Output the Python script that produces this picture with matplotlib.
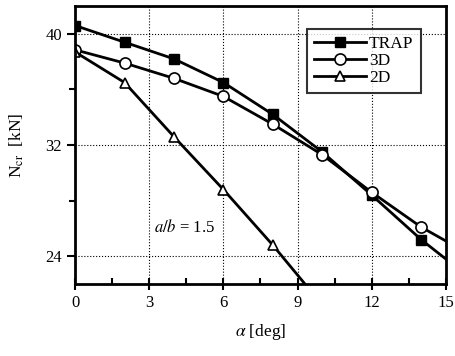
import numpy as np
import matplotlib.pyplot as plt
from matplotlib.ticker import MultipleLocator

plt.rcParams['font.family'] = ['Liberation Serif', 'DejaVu Serif']
plt.rcParams['mathtext.fontset'] = 'stix'

# angle alpha [deg] and buckling load N_cr [kN]
alpha_trap = [0, 2, 4, 6, 8, 10, 12, 14, 15]
n_trap = [40.6, 39.4, 38.2, 36.5, 34.2, 31.5, 28.4, 25.2, 23.8]
alpha_3d = [0, 2, 4, 6, 8, 10, 12, 14, 15]
n_3d = [38.85, 37.9, 36.8, 35.5, 33.5, 31.3, 28.6, 26.1, 25.1]
alpha_2d = [0, 2, 4, 6, 8, 10]
n_2d = [38.7, 36.5, 32.6, 28.8, 24.8, 20.5]

fig = plt.figure(figsize=(4.55, 3.56), dpi=100)
ax = fig.add_axes([0.165, 0.202, 0.815, 0.781])

ax.plot(alpha_trap, n_trap, color='black', lw=2, marker='s', ms=6.5,
        mfc='black', mec='black', markevery=list(range(8)), label='TRAP')
ax.plot(alpha_3d, n_3d, color='black', lw=2, marker='o', ms=8,
        mfc='white', mec='black', mew=1.2, markevery=list(range(8)), label='3D')
ax.plot(alpha_2d, n_2d, color='black', lw=2, marker='^', ms=7,
        mfc='white', mec='black', mew=1.2, markevery=list(range(5)), label='2D')

ax.set_xlim(0, 15)
ax.set_ylim(22, 42)
ax.xaxis.set_major_locator(MultipleLocator(3))
ax.xaxis.set_minor_locator(MultipleLocator(1.5))
ax.yaxis.set_major_locator(MultipleLocator(8))
ax.yaxis.set_minor_locator(MultipleLocator(4))
ax.set_yticks([24, 32, 40])
ax.grid(True, which='major', color='black', ls=':', lw=0.8)
ax.tick_params(which='major', direction='out', length=6, width=1.5, labelsize=12)
ax.tick_params(axis='y', which='minor', direction='out', length=4, width=1.5)
ax.tick_params(axis='x', which='minor', direction='in', length=4, width=1.5)
ax.tick_params(axis='x', which='major', direction='inout', length=8)
for s in ax.spines.values():
    s.set_linewidth(2)

ax.set_xlabel(r'$\alpha$ [deg]', fontsize=12.5, labelpad=8)
ax.set_ylabel(r'N$_{\rm cr}$  [kN]', fontsize=12.5, labelpad=14)
ax.text(3.2, 26.1, r'$a/b$ = 1.5', fontsize=12, va='center')

leg = ax.legend(loc='upper right', bbox_to_anchor=(0.955, 0.95), fontsize=12.5,
                frameon=True, fancybox=False, edgecolor='black',
                handlelength=3.0, labelspacing=0.05, borderpad=0.4,
                handletextpad=0.2)
leg.get_frame().set_linewidth(1.5)

fig.savefig('out.png', dpi=100)
